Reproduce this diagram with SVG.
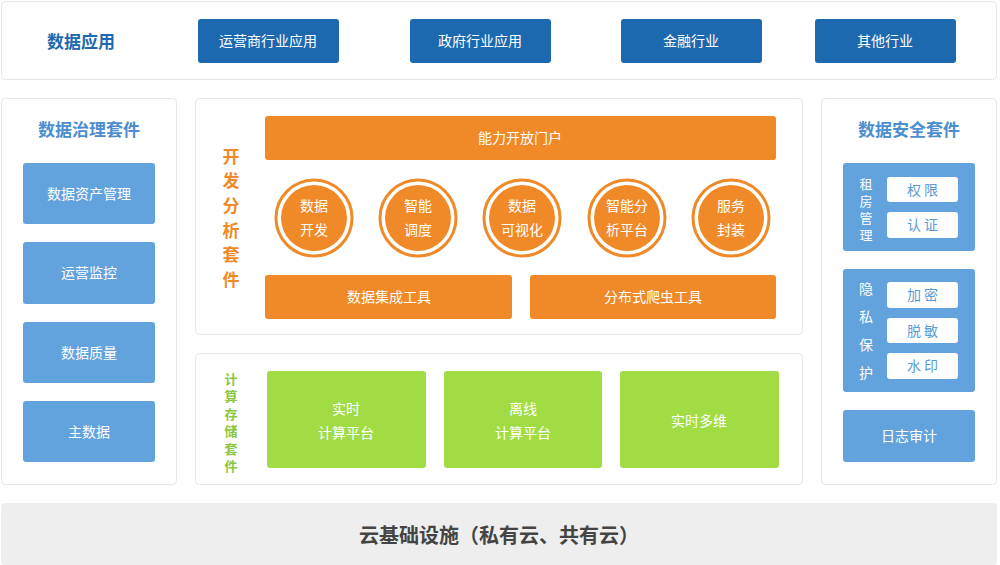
<svg xmlns="http://www.w3.org/2000/svg" width="1000" height="565" viewBox="0 0 1000 565">
<style>
text{font-family:"Microsoft YaHei","Noto Sans CJK SC","Noto Sans",sans-serif;text-anchor:middle;dominant-baseline:central}
.panel{fill:#fff;stroke:#e6e6e6;stroke-width:1}
.dark{fill:#1c69b0}
.lb{fill:#62a3dd}
.or{fill:#f08a28}
.gr{fill:#a1dc44}
.wt{fill:#fff;font-size:14px}
.title{font-size:17px;font-weight:bold}
.vo{fill:#f08a28;font-size:17px;font-weight:bold}
.vg{fill:#8cc63e;font-size:13px;font-weight:bold}
.vw{fill:#fff;font-size:14px}
.vs{fill:#fff;font-size:13px}
.bt{fill:#5b9bd5;font-size:14px;letter-spacing:3px}
</style>
<rect width="1000" height="565" fill="#fff"/>
<g id="app">
<rect class="panel" x="1.5" y="1.5" width="995" height="78" rx="4"/>
<text class="title" x="81" y="40" fill="#1c69b0">数据应用</text>
<rect class="dark" x="198" y="19" width="141" height="44" rx="3"/>
<text class="wt" x="268" y="40">运营商行业应用</text>
<rect class="dark" x="410" y="19" width="141" height="44" rx="3"/>
<text class="wt" x="480" y="40">政府行业应用</text>
<rect class="dark" x="621" y="19" width="141" height="44" rx="3"/>
<text class="wt" x="691" y="40">金融行业</text>
<rect class="dark" x="815" y="19" width="141" height="44" rx="3"/>
<text class="wt" x="885" y="40">其他行业</text>
</g>
<g id="governance">
<rect class="panel" x="1.5" y="98.5" width="175" height="386" rx="4"/>
<text class="title" x="89" y="128" fill="#4b8ed0">数据治理套件</text>
<rect class="lb" x="23" y="163" width="132" height="61" rx="3"/>
<text class="wt" x="89" y="193">数据资产管理</text>
<rect class="lb" x="23" y="242" width="132" height="62" rx="3"/>
<text class="wt" x="89" y="272">运营监控</text>
<rect class="lb" x="23" y="322" width="132" height="61" rx="3"/>
<text class="wt" x="89" y="352">数据质量</text>
<rect class="lb" x="23" y="401" width="132" height="61" rx="3"/>
<text class="wt" x="89" y="431">主数据</text>
</g>
<g id="dev">
<rect class="panel" x="195.5" y="98.5" width="607" height="236" rx="4"/>
<text class="vo" x="231" y="155">开</text>
<text class="vo" x="231" y="179">发</text>
<text class="vo" x="231" y="204">分</text>
<text class="vo" x="231" y="229">析</text>
<text class="vo" x="231" y="253">套</text>
<text class="vo" x="231" y="278">件</text>
<rect class="or" x="265" y="116" width="511" height="44" rx="3"/>
<text class="wt" x="520" y="137">能力开放门户</text>
<g fill="none" stroke="#f08a28" stroke-width="3">
<circle cx="314" cy="218" r="38"/><circle cx="418" cy="218" r="38"/><circle cx="522" cy="218" r="38"/><circle cx="627" cy="218" r="38"/><circle cx="731" cy="218" r="38"/>
</g>
<g class="or">
<circle cx="314" cy="218" r="33"/><circle cx="418" cy="218" r="33"/><circle cx="522" cy="218" r="33"/><circle cx="627" cy="218" r="33"/><circle cx="731" cy="218" r="33"/>
</g>
<text class="wt" x="314" y="205">数据</text><text class="wt" x="314" y="229">开发</text>
<text class="wt" x="418" y="205">智能</text><text class="wt" x="418" y="229">调度</text>
<text class="wt" x="522" y="205">数据</text><text class="wt" x="522" y="229">可视化</text>
<text class="wt" x="627" y="205">智能分</text><text class="wt" x="627" y="229">析平台</text>
<text class="wt" x="731" y="205">服务</text><text class="wt" x="731" y="229">封装</text>
<rect class="or" x="265" y="275" width="247" height="44" rx="3"/>
<text class="wt" x="389" y="296">数据集成工具</text>
<rect class="or" x="530" y="275" width="246" height="44" rx="3"/>
<text class="wt" x="653" y="296">分布式爬虫工具</text>
</g>
<g id="compute">
<rect class="panel" x="195.5" y="353.5" width="607" height="131" rx="4"/>
<text class="vg" x="231" y="378">计</text>
<text class="vg" x="231" y="395">算</text>
<text class="vg" x="231" y="413">存</text>
<text class="vg" x="231" y="430">储</text>
<text class="vg" x="231" y="448">套</text>
<text class="vg" x="231" y="465">件</text>
<rect class="gr" x="267" y="371" width="159" height="97" rx="3"/>
<text class="wt" x="346" y="408">实时</text><text class="wt" x="346" y="432">计算平台</text>
<rect class="gr" x="444" y="371" width="158" height="97" rx="3"/>
<text class="wt" x="523" y="408">离线</text><text class="wt" x="523" y="432">计算平台</text>
<rect class="gr" x="620" y="371" width="159" height="97" rx="3"/>
<text class="wt" x="699" y="420">实时多维</text>
</g>
<g id="security">
<rect class="panel" x="821.5" y="98.5" width="175" height="386" rx="4"/>
<text class="title" x="909" y="128" fill="#4b8ed0">数据安全套件</text>
<rect class="lb" x="843" y="163" width="132" height="88" rx="3"/>
<text class="vs" x="866" y="183">租</text><text class="vs" x="866" y="200">房</text><text class="vs" x="866" y="217">管</text><text class="vs" x="866" y="234">理</text>
<rect fill="#fff" x="887" y="177" width="71" height="25" rx="3"/>
<text class="bt" x="924" y="189">权限</text>
<rect fill="#fff" x="887" y="212" width="71" height="26" rx="3"/>
<text class="bt" x="924" y="224">认证</text>
<rect class="lb" x="843" y="269" width="132" height="123" rx="3"/>
<text class="vw" x="866" y="288">隐</text><text class="vw" x="866" y="316">私</text><text class="vw" x="866" y="344">保</text><text class="vw" x="866" y="372">护</text>
<rect fill="#fff" x="887" y="282" width="71" height="26" rx="3"/>
<text class="bt" x="924" y="294">加密</text>
<rect fill="#fff" x="887" y="318" width="71" height="25" rx="3"/>
<text class="bt" x="924" y="330">脱敏</text>
<rect fill="#fff" x="887" y="353" width="71" height="26" rx="3"/>
<text class="bt" x="924" y="365">水印</text>
<rect class="lb" x="843" y="410" width="132" height="52" rx="3"/>
<text class="wt" x="909" y="435">日志审计</text>
</g>
<g id="infra">
<rect x="1" y="503" width="996" height="62" rx="4" fill="#eeeeee"/>
<text x="499" y="534" fill="#444" font-size="20" font-weight="bold">云基础设施（私有云、共有云）</text>
</g>
<g id="connectors"/>
</svg>
